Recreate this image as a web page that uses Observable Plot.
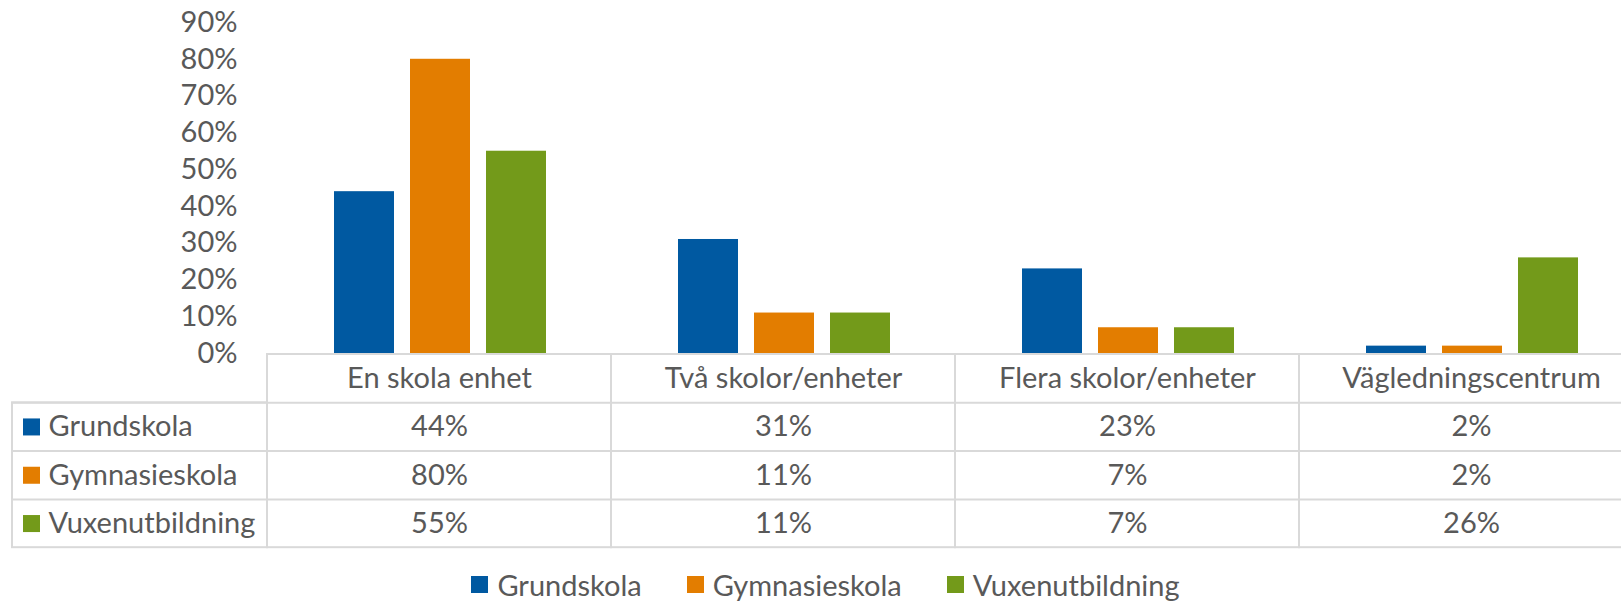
<!DOCTYPE html>
<html>
<head>
<meta charset="utf-8">
<script src="https://cdn.jsdelivr.net/npm/d3@7"></script>
<script src="https://cdn.jsdelivr.net/npm/@observablehq/plot@0.6"></script>
<style>
  html, body { margin: 0; padding: 0; background: #fff; overflow: hidden; }
  #chart svg { display: block; }
  #legend { height: 56px; margin-top: 4px; display: flex; align-items: center; justify-content: center; padding-left: 30px; box-sizing: border-box; width: 1621px; }
  #legend, #legend * { font-family: Lato, "Open Sans", sans-serif; font-size: 29px; color: #595959; }
  .lg-swatch { margin-right: 45px !important; }
  .lg-swatch:last-child { margin-right: 0 !important; }
  .lg-swatch > svg { margin-right: 9px !important; }
  .lg-swatches { justify-content: center; }
</style>
</head>
<body>
<div id="chart"></div>
<div id="legend"></div>
<script>
// ---- data ----
const categories = ["En skola enhet", "Två skolor/enheter", "Flera skolor/enheter", "Vägledningscentrum"];
const series = ["Grundskola", "Gymnasieskola", "Vuxenutbildning"];
const grundskola = [0.44, 0.31, 0.23, 0.02];
const gymnasieskola = [0.80, 0.11, 0.07, 0.02];
const vuxenutbildning = [0.55, 0.11, 0.07, 0.26];
const colors = ["#0059A1", "#E37D00", "#739A1A"];
const yTicks = [0, 0.1, 0.2, 0.3, 0.4, 0.5, 0.6, 0.7, 0.8, 0.9];

const values = [grundskola, gymnasieskola, vuxenutbildning];
const pct = d3.format(".0%");

// ---- layout ----
const BAND = 344, BAR = 60, STEP = 76, PAD = 67;
const GRID = "#D9D9D9";
const ROW = 48.3;
const LEFTCOL = 255;
const TEXT = "#595959";

const marks = [];

// bars
series.forEach((s, i) => {
  marks.push(Plot.barY(categories, {
    x: c => c,
    y: (c, j) => values[i][j],
    fill: colors[i],
    insetLeft: PAD + i * STEP,
    insetRight: BAND - (PAD + i * STEP + BAR)
  }));
});

// data table: column boxes
marks.push(Plot.barY(categories, {
  x: c => c, y1: 0, y2: 0,
  insetTop: 1, insetBottom: -(1 + 4 * ROW),
  fill: "none", stroke: GRID, strokeWidth: 2
}));
// left label column box
marks.push(Plot.barY([categories[0]], {
  x: c => c, y1: 0, y2: 0,
  insetLeft: -LEFTCOL, insetRight: BAND,
  insetTop: 1 + ROW, insetBottom: -(1 + 4 * ROW),
  fill: "none", stroke: GRID, strokeWidth: 2
}));
// row separators
[1, 2, 3].forEach(k => {
  marks.push(Plot.ruleY([0], {dy: 1 + k * ROW, insetLeft: -LEFTCOL, stroke: GRID, strokeWidth: 2}));
});
// header texts
marks.push(Plot.text(categories, {
  x: c => c, text: c => c, frameAnchor: "bottom", lineAnchor: "middle", dy: 1 + ROW / 2, fill: TEXT
}));
// values + row labels
series.forEach((s, i) => {
  const dy = 1 + ROW * (i + 1.5);
  marks.push(Plot.text(categories, {
    x: c => c, text: (c, j) => pct(values[i][j]), frameAnchor: "bottom", lineAnchor: "middle", dy, fill: TEXT
  }));
  marks.push(Plot.text([s], {
    text: d => d, frameAnchor: "bottom-left", lineAnchor: "middle", dx: -219, dy, textAnchor: "start", fill: TEXT
  }));
  marks.push(Plot.dot([s], {
    frameAnchor: "bottom-left", dx: -236, dy, symbol: "square", r: 9.6, fill: colors[i], stroke: "none"
  }));
});

const chart = Plot.plot({
  width: 1621,
  height: 560,
  marginLeft: 267,
  marginRight: 0,
  marginTop: 22,
  marginBottom: 207,
  style: {fontFamily: "Lato, 'Open Sans', sans-serif", fontSize: "29px", color: TEXT, background: "#fff"},
  x: {domain: categories, range: [267, 1643], padding: 0, axis: null},
  y: {domain: [0, 0.9], ticks: yTicks, tickFormat: pct, tickSize: 0, tickPadding: 30, label: null},
  marks
});
document.getElementById("chart").appendChild(chart);

const legend = Plot.legend({
  color: {domain: series, range: colors},
  className: "lg",
  swatchSize: 17
});
document.getElementById("legend").appendChild(legend);
</script>
</body>
</html>
